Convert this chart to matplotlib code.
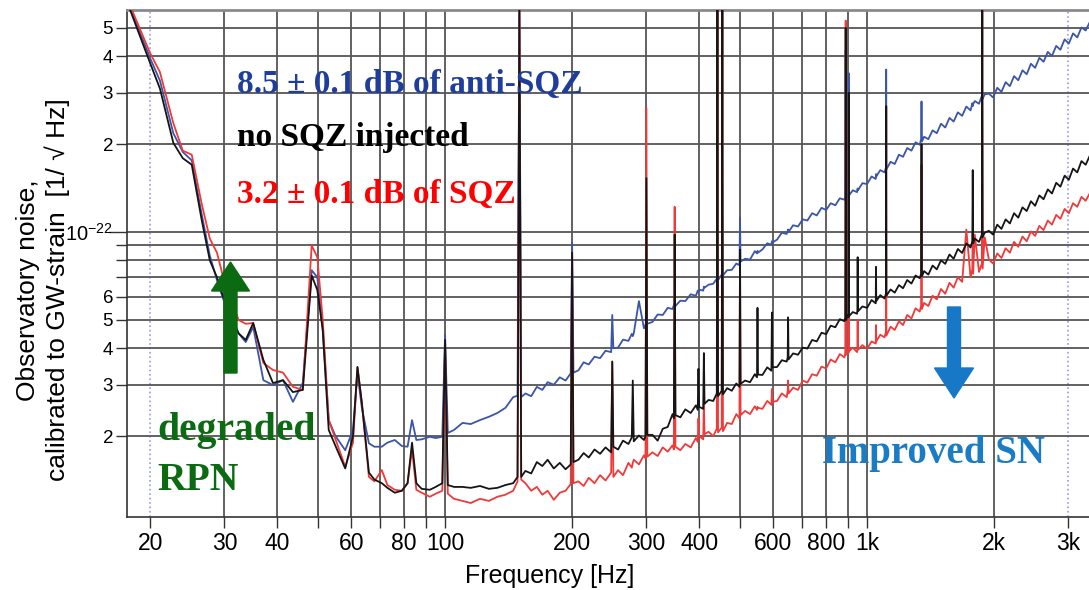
import numpy as np
import matplotlib
matplotlib.use("Agg")
import matplotlib.pyplot as plt
from matplotlib.patches import FancyArrow
from matplotlib.ticker import FixedLocator, FixedFormatter, NullLocator

# Frequency grid [Hz] (spike lines carry a point on each side)
freq = [
    17.9, 20, 21.1, 22.7, 23.9, 25.1, 26.5, 27.7, 28.8, 29.8,
    31.0, 32.4, 33.7, 35.1, 37.1, 39.1, 41.3, 43.6, 46.0, 48.3,
    49.8, 51.3, 53.0, 55.0, 58.0, 60.5, 62.0, 63.5, 66.0, 68.0,
    70.8, 73.0, 76.0, 79.0, 81.5, 83.5, 85.5, 88.0, 92.0, 95.0,
    98.5, 100, 101.5, 105, 110, 115, 121, 127, 133, 139,
    145, 148.5, 150, 151.5, 155, 160, 165, 170, 175, 181,
    187, 193, 198.5, 200, 201.5, 207, 213, 219, 226, 233,
    240, 247.5, 249, 250.5, 257, 264, 272, 277, 278.5, 280,
    288, 296, 298.5, 300, 301.5, 310, 319, 328, 337, 346,
    348.5, 350, 351.5, 361, 371, 382, 393, 397, 398.5, 400,
    409, 410.5, 412, 421, 432, 440.5, 442, 443.5, 452.5, 454,
    455.5, 466, 478, 490, 498.5, 500, 501.5, 514, 528, 542,
    548.5, 550, 551.5, 565, 580, 593.5, 595, 596.5, 612, 628,
    645, 648.5, 650, 651.5, 668, 686, 704, 722, 741, 760,
    780, 800, 820, 841, 862, 884, 888, 890, 892, 900,
    903.5, 905, 906.5, 925, 947, 948.5, 950, 951.5, 975, 1000,
    1025, 1048.5, 1050, 1051.5, 1075, 1100, 1108.5, 1110, 1111.5, 1137,
    1163, 1190, 1217, 1245, 1274, 1303, 1333, 1343, 1346, 1349,
    1365, 1397, 1430, 1463, 1497, 1532, 1568, 1604, 1641, 1680,
    1719, 1759, 1776, 1780, 1784, 1800, 1842, 1871, 1875, 1879,
    1900, 1944, 1989, 2035, 2082, 2130, 2180, 2230, 2282, 2335,
    2390, 2445, 2502, 2560, 2620, 2681, 2743, 2807, 2872, 2939,
    3007, 3077, 3149, 3222, 3297, 3374,
]

# strain noise in units of 1e-23 / sqrt(Hz)
no_sqz = [
    58, 37.9, 31, 20.2, 17.9, 17.0, 11.0, 8.0, 7.0, 6.0,
    5.3, 4.5, 4.27, 4.88, 3.65, 3.04, 3.11, 2.83, 2.88, 7.1,
    6.33, 4.62, 2.10, 1.85, 1.55, 2.0, 3.45, 2.6, 1.50, 1.42,
    1.38, 1.33, 1.28, 1.30, 1.38, 1.90, 1.38, 1.32, 1.31, 1.34,
    1.38, 4.27, 1.36, 1.34, 1.34, 1.33, 1.35, 1.32, 1.33, 1.36,
    1.38, 1.45, 60, 1.45, 1.52, 1.49, 1.63, 1.58, 1.66, 1.55,
    1.62, 1.54, 1.60, 8.5, 1.63, 1.66, 1.75, 1.69, 1.80, 1.74,
    1.83, 1.76, 3.6, 1.84, 1.80, 1.93, 1.88, 1.98, 3.1, 1.92,
    2.01, 1.94, 2.0, 15.3, 2.02, 2.02, 1.93, 2.12, 2.15, 2.38,
    2.30, 9.8, 2.36, 2.32, 2.47, 2.40, 2.55, 2.46, 3.4, 2.52,
    2.48, 3.85, 2.58, 2.66, 2.64, 2.80, 60, 2.74, 2.86, 60,
    2.78, 2.92, 2.86, 3.03, 2.95, 8.7, 3.02, 3.10, 3.06, 3.26,
    3.18, 5.5, 3.25, 3.24, 3.44, 3.35, 5.3, 3.44, 3.45, 3.64,
    3.60, 3.72, 5.1, 3.66, 3.84, 3.80, 4.02, 3.99, 4.27, 4.22,
    4.52, 4.47, 4.78, 4.72, 5.03, 4.95, 5.10, 50, 5.0, 5.2,
    5.1, 30, 5.15, 5.32, 5.25, 5.40, 8.2, 5.35, 5.56, 5.50,
    5.85, 5.70, 7.6, 5.80, 6.08, 5.92, 6.15, 27, 6.05, 6.36,
    6.20, 6.58, 6.42, 6.85, 6.66, 7.10, 6.95, 7.2, 20, 7.05,
    7.35, 7.15, 7.68, 7.45, 8.0, 7.78, 8.38, 8.10, 8.75, 8.48,
    9.15, 8.85, 9.3, 16.3, 9.15, 9.5, 9.25, 9.8, 60, 9.6,
    9.95, 10.1, 9.8, 10.6, 10.25, 11.05, 10.7, 11.6, 11.2, 12.15,
    11.8, 12.75, 12.3, 13.35, 12.95, 14.0, 13.55, 14.75, 14.3, 15.6,
    15.1, 16.5, 16.0, 17.5, 17.0, 18.3,
]

sqz = [
    60, 41, 35.3, 23.6, 19.0, 18.4, 12.5, 9.5, 8.5, 7.0,
    6.0, 5.0, 4.85, 4.88, 3.56, 3.37, 3.30, 2.95, 2.88, 9.0,
    8.2, 5.0, 2.27, 1.95, 1.57, 1.9, 3.45, 2.6, 1.45, 1.40,
    1.53, 1.36, 1.31, 1.30, 1.38, 1.80, 1.31, 1.28, 1.24, 1.27,
    1.30, 4.1, 1.27, 1.22, 1.20, 1.18, 1.22, 1.20, 1.24, 1.26,
    1.30, 1.40, 60, 1.42, 1.38, 1.30, 1.34, 1.26, 1.30, 1.21,
    1.28, 1.30, 1.37, 8.5, 1.38, 1.40, 1.35, 1.44, 1.38, 1.47,
    1.41, 1.50, 3.6, 1.45, 1.53, 1.47, 1.62, 1.56, 1.62, 1.66,
    1.60, 1.72, 1.68, 26.6, 1.70, 1.76, 1.71, 1.83, 1.77, 1.86,
    1.80, 12.2, 1.84, 1.79, 1.88, 1.83, 1.97, 1.91, 2.3, 2.0,
    1.95, 2.6, 2.03, 2.07, 2.0, 2.12, 60, 2.06, 2.14, 60,
    2.08, 2.22, 2.20, 2.38, 2.30, 8.7, 2.36, 2.44, 2.38, 2.53,
    2.46, 2.52, 2.50, 2.48, 2.64, 2.56, 2.9, 2.62, 2.64, 2.80,
    2.72, 2.85, 3.1, 2.80, 2.93, 2.88, 3.10, 3.05, 3.26, 3.22,
    3.46, 3.41, 3.66, 3.58, 3.82, 3.72, 3.85, 53, 3.80, 3.92,
    3.85, 25, 3.90, 4.02, 3.88, 4.0, 5.0, 3.95, 4.10, 3.98,
    4.22, 4.15, 4.8, 4.22, 4.45, 4.36, 4.55, 27, 4.42, 4.74,
    4.62, 4.95, 4.80, 5.20, 5.06, 5.48, 5.34, 5.6, 17, 5.45,
    5.72, 5.58, 6.05, 5.88, 6.38, 6.15, 6.7, 6.45, 7.0, 6.75,
    10.2, 7.0, 7.45, 10.0, 7.2, 9.8, 7.3, 7.8, 60, 7.5,
    9.6, 8.05, 7.8, 8.45, 8.15, 8.8, 8.5, 9.25, 8.9, 9.65,
    9.3, 10.05, 9.7, 10.5, 10.15, 10.95, 10.6, 11.45, 11.1, 12.0,
    11.6, 12.55, 12.2, 13.2, 12.8, 13.6,
]

anti_sqz = [
    59, 39.4, 33, 21.8, 18.8, 17.6, 11.5, 8.3, 6.85, 5.9,
    5.1, 4.5, 4.2, 4.73, 3.11, 2.99, 3.11, 2.62, 3.04, 7.4,
    7.0, 4.62, 2.27, 2.0, 1.79, 2.1, 3.29, 2.5, 1.89, 1.84,
    1.84, 1.90, 1.94, 1.85, 1.84, 2.27, 1.94, 1.95, 1.99, 1.97,
    1.99, 4.45, 2.05, 2.10, 2.22, 2.20, 2.27, 2.33, 2.40, 2.50,
    2.72, 2.75, 60, 2.72, 2.80, 2.74, 2.95, 2.88, 3.06, 3.00,
    3.18, 3.10, 3.28, 9.2, 3.30, 3.36, 3.58, 3.52, 3.74, 3.70,
    3.92, 3.88, 5.2, 4.00, 4.02, 4.28, 4.24, 4.48, 4.40, 4.50,
    5.8, 4.68, 4.80, 5.0, 4.85, 4.92, 5.22, 5.20, 5.50, 5.45,
    5.62, 5.7, 5.58, 5.82, 5.80, 6.12, 6.05, 6.3, 6.22, 6.35,
    6.30, 6.5, 6.45, 6.60, 6.65, 6.92, 7.0, 6.85, 7.15, 7.05,
    7.10, 7.40, 7.42, 7.80, 7.70, 11.2, 7.92, 8.1, 8.05, 8.60,
    8.45, 8.62, 8.5, 8.72, 9.15, 9.05, 9.3, 9.2, 9.42, 9.95,
    9.85, 10.1, 10.2, 10.0, 10.55, 10.45, 11.05, 10.95, 11.6, 11.4,
    12.1, 11.9, 12.55, 12.35, 13.05, 12.9, 13.2, 42, 13.1, 13.4,
    13.2, 35, 13.35, 13.9, 13.7, 14.0, 14.1, 13.9, 14.7, 14.6,
    15.5, 15.2, 15.8, 15.5, 16.3, 16.0, 16.6, 36, 16.4, 17.4,
    17.1, 18.4, 18.1, 19.4, 19.0, 20.3, 19.9, 20.8, 28, 20.4,
    21.2, 20.8, 22.3, 21.8, 23.5, 22.8, 24.6, 23.9, 25.7, 25.0,
    26.9, 26.1, 27.6, 27.0, 27.4, 28.1, 27.5, 29.3, 29.0, 28.6,
    29.6, 29.8, 28.9, 31.2, 30.2, 32.6, 31.6, 34.2, 33.1, 35.8,
    34.7, 37.7, 36.5, 39.5, 38.3, 41.4, 40.1, 43.4, 42.1, 45.7,
    44.2, 47.9, 46.4, 50.2, 49.0, 52.5,
]

x_ticks = [20, 30, 40, 50, 60, 70, 80, 90, 100, 200, 300, 400, 500,
           600, 700, 800, 900, 1000, 2000, 3000]
x_labels = ["20", "30", "40", "", "60", "", "80", "", "100", "200", "300",
            "400", "", "600", "", "800", "", "1k", "2k", "3k"]
y_ticks = [2e-23, 3e-23, 4e-23, 5e-23, 6e-23, 7e-23, 8e-23, 9e-23, 1e-22,
           2e-22, 3e-22, 4e-22, 5e-22]
y_labels = ["2", "3", "4", "5", "6", "", "", "", "$10^{-22}$", "2", "3", "4", "5"]

assert len(freq) == len(no_sqz) == len(sqz) == len(anti_sqz)

plt.rcParams["font.family"] = "Liberation Sans"
plt.rcParams["mathtext.fontset"] = "custom"
plt.rcParams["mathtext.rm"] = "Liberation Sans"

W, H = 1089, 590
fig = plt.figure(figsize=(W / 100, H / 100), dpi=100)
ax = fig.add_axes([127 / W, 1 - 517 / H, 1 - 127 / W, (517 - 10) / H])

scale = 1e-23
ax.loglog(freq, np.array(anti_sqz) * scale, color="#3b55a8", lw=1.3, zorder=3)
ax.loglog(freq, np.array(sqz) * scale, color="#f03a3a", lw=1.3, zorder=4)
ax.loglog(freq, np.array(no_sqz) * scale, color="#151515", lw=1.3, zorder=5)

ax.set_xlim(17.63, 3357)
ax.set_ylim(1.057e-23, 5.76e-22)

ax.xaxis.set_major_locator(FixedLocator(x_ticks))
ax.xaxis.set_major_formatter(FixedFormatter(x_labels))
ax.xaxis.set_minor_locator(NullLocator())
ax.yaxis.set_major_locator(FixedLocator(y_ticks))
ax.yaxis.set_major_formatter(FixedFormatter(y_labels))
ax.yaxis.set_minor_locator(NullLocator())

ax.tick_params(axis="both", direction="out", length=8, width=1, color="#333333")
ax.tick_params(axis="x", labelsize=16.5, pad=3)
ax.tick_params(axis="y", labelsize=13.5, pad=2)
ax.yaxis.get_major_ticks()[8].tick1line.set_markersize(13)
ax.yaxis.get_major_ticks()[8].label1.set_fontsize(14.5)

ax.grid(True, color="#555555", lw=1.3, zorder=1)
for i in (0, len(x_ticks) - 1):
    gl = ax.get_xgridlines()[i]
    gl.set_color("#9a9ae0")
    gl.set_linestyle(":")
    gl.set_linewidth(1.2)

ax.spines["right"].set_visible(False)
ax.spines["top"].set_color("#8a8a8a")
ax.spines["top"].set_linewidth(2)
for s in ("left", "bottom"):
    ax.spines[s].set_color("#333333")
    ax.spines[s].set_linewidth(1.2)

# axis labels
fig.text(43 / W, 1 - 290 / H, "Observatory noise,\ncalibrated to GW-strain  [1/ √ Hz]",
         rotation=90, ha="center", va="center", fontsize=19, multialignment="center")
fig.text(550 / W, 1 - 576 / H, "Frequency [Hz]", ha="center", va="center", fontsize=18)

# annotations
serif = "Liberation Serif"
fig.text(237 / W, 1 - 93 / H, "8.5 ± 0.1 dB of anti-SQZ", color="#1f3e9c",
         family=serif, weight="bold", fontsize=24, va="baseline")
fig.text(237 / W, 1 - 146 / H, "no SQZ injected", color="black",
         family=serif, weight="bold", fontsize=24, va="baseline")
fig.text(237 / W, 1 - 203 / H, "3.2 ± 0.1 dB of SQZ", color="#ff0000",
         family=serif, weight="bold", fontsize=24, va="baseline")
fig.text(157 / W, 1 - 440 / H, "degraded", color="#0b6a12",
         family=serif, weight="bold", fontsize=28.5, va="baseline")
fig.text(157 / W, 1 - 490 / H, "RPN", color="#0b6a12",
         family=serif, weight="bold", fontsize=28.5, va="baseline")
fig.text(822 / W, 1 - 463 / H, "Improved SN", color="#1a7cc4",
         family=serif, weight="bold", fontsize=28, va="baseline")

# arrows (figure inches)
fig.patches.append(FancyArrow(2.305, (H - 373) / 100, 0, 1.11, width=0.13,
                              head_width=0.38, head_length=0.29,
                              length_includes_head=True, color="#0b6a12",
                              transform=fig.dpi_scale_trans, figure=fig))
fig.patches.append(FancyArrow(9.54, (H - 307) / 100, 0, -0.91, width=0.13,
                              head_width=0.39, head_length=0.30,
                              length_includes_head=True, color="#1878c8",
                              transform=fig.dpi_scale_trans, figure=fig))

fig.savefig("out.png", dpi=100)
